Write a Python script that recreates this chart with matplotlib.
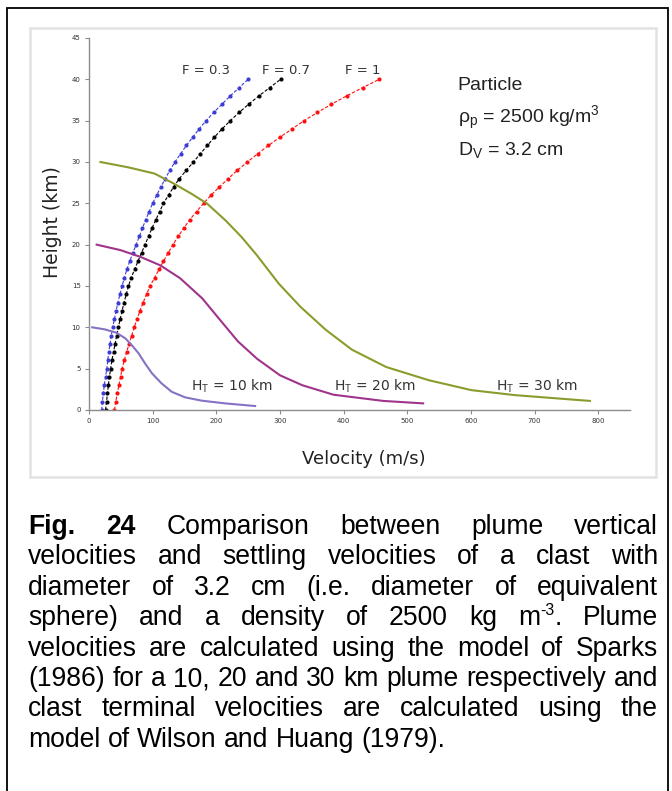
import matplotlib
matplotlib.use("Agg")
import matplotlib.pyplot as plt
from matplotlib.patches import Rectangle

# particle settling velocities (m/s) read at every km of height
heights = list(range(0, 41))
vel_f03 = [20, 21, 22.5, 24, 26, 28, 29.5, 31, 33, 35, 37, 40, 42.5, 45.5, 48.5, 52,
           55.5, 59.5, 64, 69, 74, 79, 84, 89, 94.5, 100, 106.5, 113, 120, 127, 135,
           144, 153, 163, 173, 184, 196, 209, 222, 236, 250]
vel_f07 = [26, 27.5, 29, 30.5, 32, 34, 36, 38.5, 41, 43.5, 46, 49, 52, 55, 58.5, 62,
           66.5, 71.5, 77, 82.5, 88, 93.5, 99, 105, 111, 117, 125, 133, 142, 153, 164,
           175, 186, 197, 209, 222, 236, 251, 267, 284, 301]
vel_f1 = [40, 42, 44.5, 47, 49.5, 52, 55.5, 59, 63, 67, 71, 75.5, 80, 85, 90.5, 96,
          103, 110, 117, 124.5, 132, 140, 149, 158, 169, 180, 192, 205, 219, 233, 249,
          265, 282, 300, 319, 338, 359, 381, 405, 430, 456]

# plume vertical velocities (Sparks 1986)
v_ht10 = [5, 25, 43, 57, 67, 78, 88, 99, 114, 130, 151, 177, 214, 261]
h_ht10 = [10.0, 9.75, 9.35, 8.67, 7.86, 6.85, 5.64, 4.43, 3.22, 2.2, 1.53, 1.13, 0.8, 0.48]
v_ht20 = [12, 49, 80, 112, 143, 178, 208, 234, 264, 300, 335, 384, 462, 525]
h_ht20 = [20.0, 19.35, 18.55, 17.5, 15.95, 13.5, 10.7, 8.3, 6.2, 4.2, 3.0, 1.85, 1.1, 0.8]
v_ht30 = [18, 62, 103, 133, 160, 185, 215, 240, 264, 298, 332, 372, 413, 467, 534, 601, 669, 736, 787]
h_ht30 = [30.0, 29.35, 28.6, 27.4, 26.2, 25.0, 22.9, 20.9, 18.7, 15.3, 12.5, 9.7, 7.3, 5.2, 3.6, 2.4, 1.8, 1.4, 1.1]

x_ticks = [0, 100, 200, 300, 400, 500, 600, 700, 800]
y_ticks = [0, 5, 10, 15, 20, 25, 30, 35, 40, 45]

caption = [
    [("Fig.", "bold"), ("24", "bold"), "Comparison", "between", "plume", "vertical"],
    ["velocities", "and", "settling", "velocities", "of", "a", "clast", "with"],
    ["diameter", "of", "3.2", "cm", "(i.e.", "diameter", "of", "equivalent"],
    ["sphere)", "and", "a", "density", "of", "2500", "kg", "m^-3.", "Plume"],
    ["velocities", "are", "calculated", "using", "the", "model", "of", "Sparks"],
    ["(1986)", "for", "a", "10,", "20", "and", "30", "km", "plume", "respectively", "and"],
    ["clast", "terminal", "velocities", "are", "calculated", "using", "the"],
    ["model", "of", "Wilson", "and", "Huang", "(1979)."],
]

plt.rcParams['mathtext.fontset'] = 'custom'
plt.rcParams['mathtext.rm'] = 'Liberation Sans'
plt.rcParams['mathtext.it'] = 'Liberation Sans'

W, H = 672, 791
fig = plt.figure(figsize=(6.72, 7.91), dpi=100)


def fx(px):
    return px / W


def fy(py):
    return 1 - py / H


# outer black box and the light grey chart frame
fig.patches.append(Rectangle((fx(7), fy(800)), fx(661), 792 / H,
                             transform=fig.transFigure, fill=False, lw=1.3, ec='black'))
fig.patches.append(Rectangle((fx(30), fy(477)), fx(626), 449 / H,
                             transform=fig.transFigure, fill=False, lw=1.8, ec='#e2e2e2'))

ax = fig.add_axes([fx(89), fy(410), fx(541), 372 / H])
ax.set_xlim(0, 850)
ax.set_ylim(0, 45)

dot_kw = dict(ls=(0, (3, 1.6)), lw=0.8, marker='o', ms=3.0, mew=0)
ax.plot(vel_f03, heights, color='#3d3dd6', **dot_kw)
ax.plot(vel_f07, heights, color='black', **dot_kw)
ax.plot(vel_f1, heights, color='#ff1010', **dot_kw)

ax.plot(v_ht10, h_ht10, color='#8672c4', lw=1.5)
ax.plot(v_ht20, h_ht20, color='#a0348a', lw=1.5)
ax.plot(v_ht30, h_ht30, color='#8c9b2c', lw=1.5)

for s in ['top', 'right']:
    ax.spines[s].set_visible(False)
for s in ['left', 'bottom']:
    ax.spines[s].set_color('#8c8c8c')
    ax.spines[s].set_linewidth(1.0)
ax.set_xticks(x_ticks)
ax.set_yticks(y_ticks)
ax.tick_params(labelsize=5, length=3, width=0.8, color='#8c8c8c', labelcolor='#333333', pad=3)

fig.text(fx(52), fy(222), "Height (km)", rotation=90, ha='center', va='center',
         fontsize=13.5, color='#222222')
fig.text(fx(364), fy(459), "Velocity (m/s)", ha='center', va='center',
         fontsize=13, color='#222222')

f_kw = dict(fontsize=9.5, color='#333333', va='baseline')
ax.text(146, 40.6, "F = 0.3", **f_kw)
ax.text(272, 40.6, "F = 0.7", **f_kw)
ax.text(402, 40.6, "F = 1", **f_kw)

p_kw = dict(fontsize=14, color='#222222', va='baseline', family='Liberation Sans')
ax.text(579, 38.7, "Particle", **p_kw)
ax.text(579, 34.7, r"$\mathrm{\rho_p}$ = 2500 kg/m$^\mathrm{3}$", **p_kw)
ax.text(579, 30.8, r"D$_\mathrm{V}$ = 3.2 cm", **p_kw)

h_kw = dict(fontsize=10, color='#333333', va='baseline')
ax.text(160, 2.4, r"H$_\mathrm{T}$ = 10 km", **h_kw)
ax.text(385, 2.4, r"H$_\mathrm{T}$ = 20 km", **h_kw)
ax.text(640, 2.4, r"H$_\mathrm{T}$ = 30 km", **h_kw)

# caption, justified word by word
renderer = fig.canvas.get_renderer()
cap_font = 'Liberation Sans'
left, right = 28, 658


def word_parts(w, fs):
    if isinstance(w, tuple):
        return [(w[0], fs, 0, w[1])]
    if w == "m^-3.":
        return [("m", fs, 0, 'normal'), ("-3", fs * 0.6, fs * 0.55, 'normal'), (".", fs, 0, 'normal')]
    return [(w, fs, 0, 'normal')]


def width_of(txt, fs, wt):
    t = fig.text(0, 0, txt, fontsize=fs, weight=wt, family=cap_font)
    wd = t.get_window_extent(renderer).width
    t.remove()
    return wd


base = 10
nat = sum(width_of(w, base, 'normal') for w in caption[5])
nat += (len(caption[5]) - 1) * (width_of("a a", base, 'normal') - width_of("aa", base, 'normal'))
cap_fs = base * (right - left) / nat
space = width_of("a a", cap_fs, 'normal') - width_of("aa", cap_fs, 'normal')

y0, dy = 534, 30.4
for i, line in enumerate(caption):
    parts = [word_parts(w, cap_fs) for w in line]
    widths = [sum(width_of(p[0], p[1], p[3]) for p in ps) for ps in parts]
    if i < len(caption) - 1:
        gap = (right - left - sum(widths)) / (len(line) - 1)
    else:
        gap = space
    x = left
    base_y = y0 + i * dy
    for ps, wd in zip(parts, widths):
        xx = x
        for txt, fs, rise, wt in ps:
            fig.text(fx(xx), fy(base_y - rise), txt, fontsize=fs, weight=wt,
                     family=cap_font, va='baseline', color='black')
            xx += width_of(txt, fs, wt)
        x += wd + gap

fig.savefig("out.png", dpi=100, facecolor='white')
